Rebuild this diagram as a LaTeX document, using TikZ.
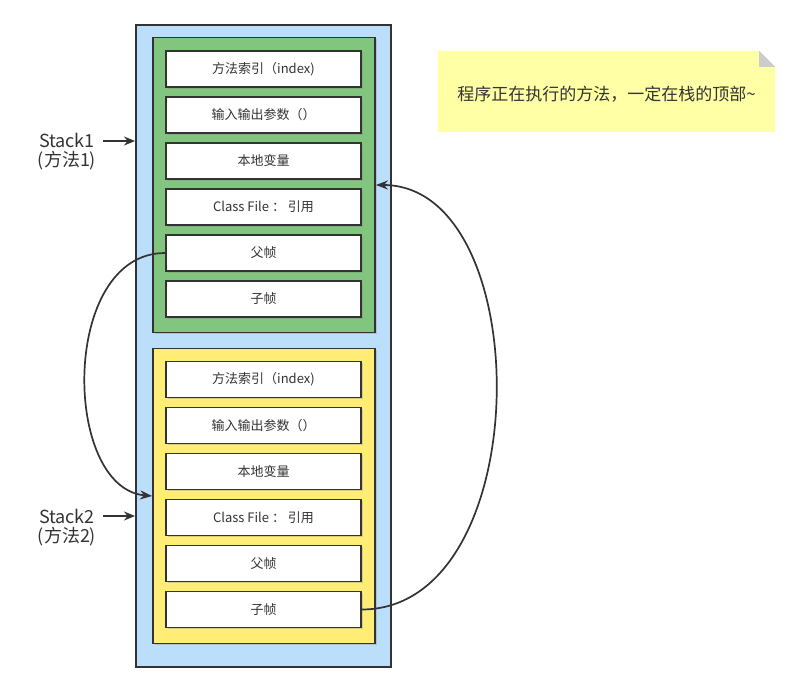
\documentclass[tikz,border=0pt]{standalone}
\usepackage{fontspec}
\setmainfont{Noto Sans CJK SC}
\usepackage{tikz}
\usetikzlibrary{arrows.meta}
\usetikzlibrary{positioning}
\usetikzlibrary{shadows}

\definecolor{linegray}{HTML}{333333}
\definecolor{textgray}{HTML}{333333}
\definecolor{stackblue}{HTML}{BBDEFB}
\definecolor{framegreen}{HTML}{82C57E}
\definecolor{frameyellow}{HTML}{FFED75}
\definecolor{notefill}{HTML}{FFFFA6}
\definecolor{foldgray}{HTML}{CCCCCC}

\begin{document}
\begin{tikzpicture}[x=1pt,y=-1pt,
  stackbox/.style={draw=linegray, line width=2pt, fill=stackblue,
    minimum width=255pt, minimum height=642pt, inner sep=0pt},
  framebox/.style={draw=linegray, line width=1.8pt,
    minimum width=222pt, minimum height=295pt, inner sep=0pt,
    drop shadow={shadow xshift=1.5pt, shadow yshift=-1.5pt, opacity=0.3}},
  slot/.style={draw=linegray, line width=1.8pt, fill=white,
    minimum width=195pt, minimum height=36pt, inner sep=0pt,
    text=textgray, font=\fontsize{13}{15}\selectfont,
    drop shadow={shadow xshift=1.5pt, shadow yshift=-1.5pt, opacity=0.3}},
  stacklabel/.style={text=textgray, inner sep=0pt, font=\fontsize{18}{21}\selectfont},
  pointer/.style={draw=linegray, line width=1.8pt, -{Stealth[length=11pt,width=9pt]}},
  link/.style={draw=linegray, line width=1.7pt, -{Stealth[length=12pt,width=9pt]}}]

  \useasboundingbox (0,0) rectangle (800,693);

  % the whole stack
  \node[stackbox] (stack) at (263.5,346) {};

  % frame of method 1
  \node[framebox, fill=framegreen] (frame1) at (264,185) {};
  \foreach \txt [count=\i] in {方法索引（index), 输入输出参数（）, 本地变量,
      Class File ： 引用, 父帧, 子帧}
    \node[slot] (a\i) at (263.5,23+46*\i) {\txt};

  % frame of method 2
  \node[framebox, fill=frameyellow] (frame2) at (264,496) {};
  \foreach \txt [count=\i] in {方法索引（index), 输入输出参数（）, 本地变量,
      Class File ： 引用, 父帧, 子帧}
    \node[slot] (b\i) at (263.5,333.5+46*\i) {\txt};

  % labels on the left
  \node[stacklabel] (lab1) at (67,140) {Stack1};
  \node[stacklabel] (sub1) at (67,161) {(方法1)};
  \coordinate (tail1) at (103,141);
  \draw[pointer] (tail1) -- (tail1 -| stack.west);

  \node[stacklabel] (lab2) at (67,516) {Stack2};
  \node[stacklabel] (sub2) at (67,537) {(方法2)};
  \coordinate (tail2) at (103,516);
  \draw[pointer] (tail2) -- (tail2 -| stack.west);

  % parent / child links
  \draw[link] (a5.west) .. controls (60,253) and (62,488) .. (frame2.west);
  \draw[link] (b6.east) .. controls (538,609) and (538,185) .. (frame1.east);

  % note
  \node[minimum width=337pt, minimum height=81pt, inner sep=0pt] (tip) at (606.5,91.5) {};
  \fill[notefill] (tip.north west) -- ([xshift=-16pt]tip.north east)
    -- ([yshift=-16pt]tip.north east) -- (tip.south east) -- (tip.south west) -- cycle;
  \fill[foldgray] ([xshift=-16pt]tip.north east) -- ([yshift=-16pt]tip.north east)
    -- ([xshift=-16pt,yshift=-16pt]tip.north east) -- cycle;
  \node[text=textgray, font=\fontsize{17}{20}\selectfont] (tiptext)
    at ([yshift=-3pt]tip.center) {程序正在执行的方法，一定在栈的顶部\textasciitilde};
\end{tikzpicture}
\end{document}
